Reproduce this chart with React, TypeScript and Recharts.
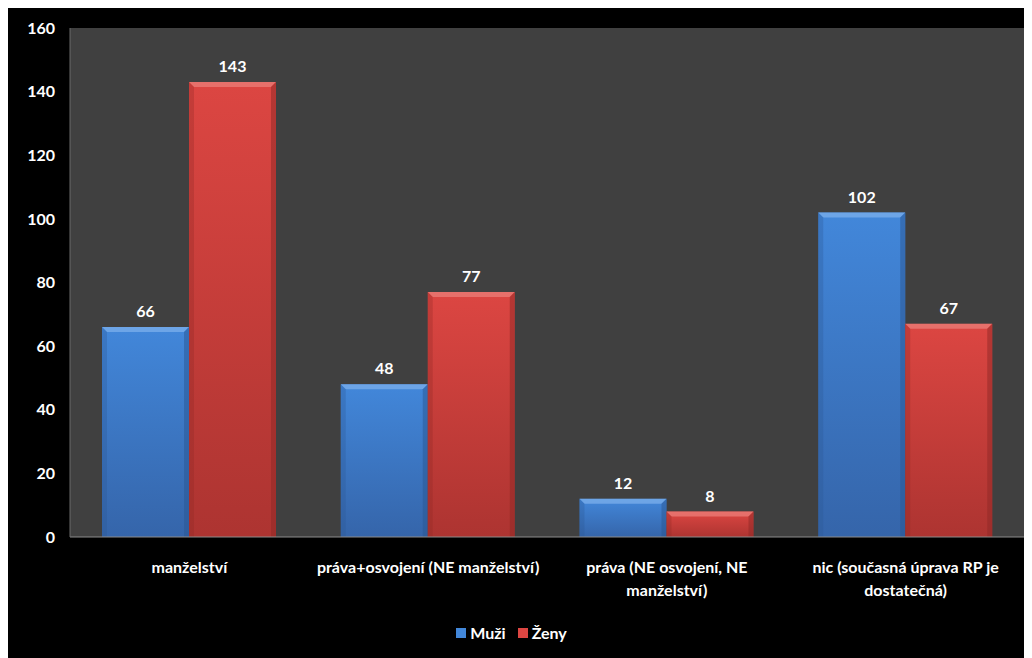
import { Bar, BarChart, CartesianGrid, LabelList, Legend, XAxis, YAxis } from 'recharts';

const categories = [
  'manželství',
  'práva+osvojení (NE manželství)',
  'práva (NE osvojení, NE\nmanželství)',
  'nic (současná úprava RP je\ndostatečná)',
];
const muzi = [66, 48, 12, 102];
const zeny = [143, 77, 8, 67];
const yTicks = [0, 20, 40, 60, 80, 100, 120, 140, 160];

const data = categories.map((name, i) => ({ name, muzi: muzi[i], zeny: zeny[i] }));

const FONT = 'Lato, "Open Sans", sans-serif';

const palette = {
  muzi: { top: '#4287da', bottom: '#3565aa', light: '#78acea', dark: '#2a5592' },
  zeny: { top: '#dc4642', bottom: '#ad3431', light: '#ea7a76', dark: '#8e2826' },
};

function bevelBar(key: 'muzi' | 'zeny') {
  return (props: any) => {
    const { x, y, width, height } = props;
    if (!height || height <= 0) return <g />;
    const b = Math.min(5, height / 2);
    const c = palette[key];
    return (
      <g>
        <rect x={x} y={y} width={width} height={height} fill={`url(#grad-${key})`} />
        <polygon
          points={`${x},${y} ${x + width},${y} ${x + width - b},${y + b} ${x + b},${y + b}`}
          fill={c.light}
          opacity={0.8}
        />
        <polygon
          points={`${x},${y} ${x + b},${y + b} ${x + b},${y + height} ${x},${y + height}`}
          fill={c.dark}
          opacity={0.3}
        />
        <polygon
          points={`${x + width},${y} ${x + width - b},${y + b} ${x + width - b},${y + height} ${x + width},${y + height}`}
          fill={c.dark}
          opacity={0.5}
        />
      </g>
    );
  };
}

function CategoryTick(props: any) {
  const { x, y, payload } = props;
  const lines = String(payload.value).split('\n');
  return (
    <text x={x} y={y} textAnchor="middle" fill="#ffffff" fontFamily={FONT} fontWeight={700} fontSize={16}>
      {lines.map((line, i) => (
        <tspan key={i} x={x} dy={i === 0 ? 28 : 23}>
          {line}
        </tspan>
      ))}
    </text>
  );
}

function LegendContent() {
  const items = [
    { label: 'Muži', color: palette.muzi.top },
    { label: 'Ženy', color: palette.zeny.top },
  ];
  return (
    <div style={{ display: 'flex', justifyContent: 'center', gap: 12, marginLeft: -10 }}>
      {items.map((it) => (
        <div key={it.label} style={{ display: 'flex', alignItems: 'center', gap: 4 }}>
          <span style={{ width: 10, height: 10, background: it.color, display: 'inline-block' }} />
          <span style={{ color: '#fff', fontFamily: FONT, fontWeight: 700, fontSize: 16 }}>{it.label}</span>
        </div>
      ))}
    </div>
  );
}

export default function App() {
  return (
    <div style={{ width: 1024, height: 650, background: '#000' }}>
      <BarChart
        width={1024}
        height={650}
        data={data}
        margin={{ top: 20, right: 7, bottom: 4, left: 0 }}
        barCategoryGap={32}
        barGap={0}
      >
        <defs>
          {(['muzi', 'zeny'] as const).map((k) => (
            <linearGradient key={k} id={`grad-${k}`} x1="0" y1="0" x2="0" y2="1">
              <stop offset="0%" stopColor={palette[k].top} />
              <stop offset="100%" stopColor={palette[k].bottom} />
            </linearGradient>
          ))}
        </defs>
        <CartesianGrid horizontal={false} vertical={false} fill="#404040" stroke="none" />
        <XAxis
          dataKey="name"
          interval={0}
          tick={<CategoryTick />}
          tickLine={false}
          axisLine={{ stroke: '#8c8c8c' }}
          height={86}
        />
        <YAxis
          domain={[0, 160]}
          ticks={yTicks}
          width={62}
          tickLine={false}
          tickSize={0}
          tickMargin={15}
          axisLine={{ stroke: '#6a6a6a' }}
          tick={{ fill: '#ffffff', fontFamily: FONT, fontWeight: 700, fontSize: 16 }}
        />
        <Legend verticalAlign="bottom" height={31} content={<LegendContent />} />
        <Bar dataKey="muzi" name="Muži" shape={bevelBar('muzi')} isAnimationActive={false}>
          <LabelList dataKey="muzi" position="top" offset={10} fill="#ffffff" fontFamily={FONT} fontWeight={700} fontSize={16} />
        </Bar>
        <Bar dataKey="zeny" name="Ženy" shape={bevelBar('zeny')} isAnimationActive={false}>
          <LabelList dataKey="zeny" position="top" offset={10} fill="#ffffff" fontFamily={FONT} fontWeight={700} fontSize={16} />
        </Bar>
      </BarChart>
    </div>
  );
}
